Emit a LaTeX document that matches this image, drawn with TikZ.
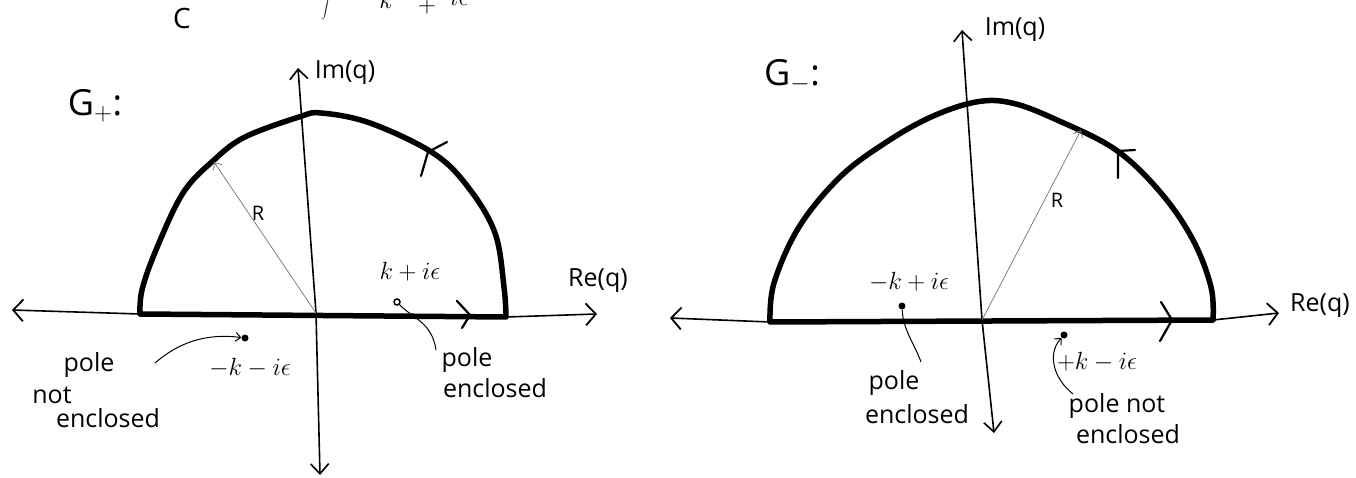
\documentclass[tikz,border=0pt]{standalone}
\usepackage{fontspec}
\setmainfont{Open Sans}
\usetikzlibrary{arrows.meta}
\begin{document}
\begin{tikzpicture}[x=1pt,y=-1pt,
  contour/.style={line width=5.5pt, line join=round, line cap=round},
  axisline/.style={line width=1.6pt},
  bigbarb/.style={-{Straight Barb[length=10pt,width=22pt,line width=1.8pt]}},
  bothbarb/.style={{Straight Barb[length=10pt,width=18pt,line width=1.6pt]}-{Straight Barb[length=10pt,width=18pt,line width=1.6pt]}},
  midarrow/.style={line width=2.2pt, line join=round, line cap=round},
  radiusline/.style={line width=0.7pt, black!55, -{Straight Barb[length=6pt,width=10pt,line width=0.8pt]}},
  pointer/.style={line width=1pt},
  pointerarrow/.style={line width=1pt, -{Straight Barb[length=5pt,width=9pt,line width=1pt]}},
  lbl/.style={inner sep=0pt, font=\fontsize{25}{27}\selectfont},
  smalllbl/.style={inner sep=0pt, font=\fontsize{20}{22}\selectfont},
  biglbl/.style={inner sep=0pt, font=\fontsize{36}{38}\selectfont},
  dot/.style={circle, fill, inner sep=0pt, minimum size=7pt},
  odot/.style={circle, draw, line width=1.5pt, inner sep=0pt, minimum size=6pt},
]
\useasboundingbox (0,0) rectangle (1356,478);

% ---------- partial heading at the top ----------
\node[anchor=south, inner sep=0pt, font=\fontsize{30}{30}\selectfont] (intsign) at (326,20) {$\displaystyle\int$};
\node[lbl, anchor=base] (topk) at (386,9) {$k$};
\node[font=\fontsize{30}{30}\selectfont, inner sep=0pt] (topplus) at (427,6) {$+$};
\node[lbl, anchor=base west] (topie) at (450,6) {$i\epsilon$};
\node[inner sep=0pt, font=\fontsize{28}{30}\selectfont] (cC) at (182,19) {C};

% ---------- left diagram (G+) ----------
\coordinate (LO) at (316,313);
\coordinate (LA) at (140,314);
\coordinate (LB) at (506,317);
\coordinate (LXl) at (12,310);
\coordinate (LXr) at (597,314);
\coordinate (LYt) at (298,68);
\coordinate (LYb) at (320,475);
\coordinate (LR) at (214,162);

\draw[axisline, bigbarb] (LA) -- (LXl);
\draw[axisline, bigbarb] (LB) -- (LXr);
\draw[axisline, bothbarb] (LYt) -- (LO) -- (LYb);

\draw[contour] plot[smooth, tension=0.6] coordinates {(140,314) (142,290) (156,250) (183,193) (214,160) (245,137) (299,117) (321,113) (370,123) (433,153) (468,187) (495,233) (504,287) (506,317)} -- cycle;

\draw[midarrow] (421,176) -- (428,152) -- (447,142);
\draw[midarrow] (457,301) -- (470,315) -- (462,328);

\draw[radiusline] (LO) -- (LR);
\node[smalllbl] (LRl) at (258,213) {R};

\node[lbl] (Lim) at (345,73) {Im(q)};
\node[lbl] (Lre) at (598,281) {Re(q)};
\node[biglbl] (Lg) at (95,106) {G$_+$:};

\node[odot] (Lp1) at (397,302) {};
\node[lbl] (Lp1l) at (410,272) {$k+i\epsilon$};
\node[dot] (Lp2) at (245,338) {};
\node[lbl] (Lp2l) at (250,368) {$-k-i\epsilon$};

\node[lbl] (Lpole1) at (89,365) {pole};
\node[lbl] (Lnot1) at (52,395) {not};
\node[lbl] (Lenc1) at (108,418) {enclosed};
\node[lbl] (Lpole2) at (467,360) {pole};
\node[lbl] (Lenc2) at (495,388) {enclosed};

\coordinate (Lptr1) at (155,363);
\coordinate (Lptr2) at (436,350);
\draw[pointerarrow] (Lptr1) .. controls (178,343) and (205,333) .. (Lp2);
\draw[pointer] (Lp1) .. controls (412,318) and (432,322) .. (Lptr2);

% ---------- right diagram (G-) ----------
\coordinate (RO) at (982,320);
\coordinate (RA) at (770,322);
\coordinate (RB) at (1213,320);
\coordinate (RXl) at (670,318);
\coordinate (RXr) at (1279,313);
\coordinate (RYt) at (962,30);
\coordinate (RYb) at (994,433);
\coordinate (RR) at (1081,130);

\draw[axisline, bigbarb] (RA) -- (RXl);
\draw[axisline, bigbarb] (RB) -- (RXr);
\draw[axisline, bothbarb] (RYt) -- (RO) -- (RYb);

\draw[contour] plot[smooth, tension=0.6] coordinates {(770,322) (774,283) (799,227) (840,177) (885,143) (931,117) (976,102) (1012,103) (1057,120) (1116,150) (1161,193) (1193,240) (1211,287) (1213,320)} -- cycle;

\draw[midarrow] (1118,178) -- (1118,151) -- (1135,150);
\draw[midarrow] (1161,302) -- (1172,320) -- (1160,341);

\draw[radiusline] (RO) -- (RR);
\node[smalllbl] (RRl) at (1057,200) {R};

\node[lbl] (Rim) at (1015,30) {Im(q)};
\node[lbl, anchor=west] (Rre) at (1290,306) {Re(q)};
\node[biglbl] (Rg) at (792,76) {G$_-$:};

\node[dot] (Rp1) at (902,306) {};
\node[lbl] (Rp1l) at (909,282) {$-k+i\epsilon$};
\node[dot] (Rp2) at (1064,335) {};
\node[lbl] (Rp2l) at (1097,362) {$+k-i\epsilon$};

\node[lbl] (Rpole1) at (894,383) {pole};
\node[lbl] (Renc1) at (917,414) {enclosed};
\node[lbl] (Rpole2) at (1117,406) {pole not};
\node[lbl] (Renc2) at (1128,434) {enclosed};

\coordinate (Rptr1) at (921,362);
\coordinate (Rptr2) at (1073,394);
\draw[pointer] (Rp1) .. controls (903,330) and (915,345) .. (Rptr1);
\draw[pointerarrow] (Rptr2) .. controls (1055,380) and (1046,355) .. (Rp2);
\end{tikzpicture}
\end{document}
